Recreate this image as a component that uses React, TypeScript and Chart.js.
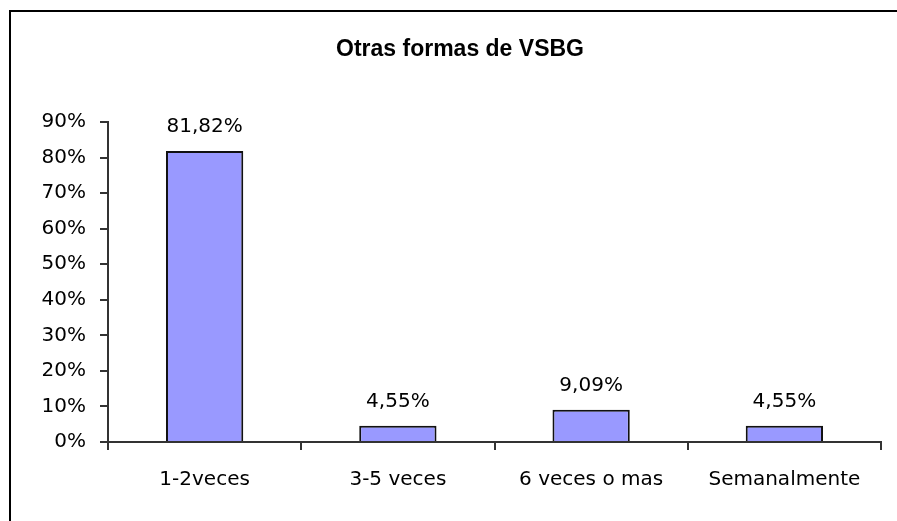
import React, { useEffect, useRef } from "react";
import { Chart, registerables } from "chart.js";

Chart.register(...registerables);

const categories = ["1-2veces", "3-5 veces", "6 veces o mas", "Semanalmente"];
const values = [81.82, 4.55, 9.09, 4.55];
const chartTitle = "Otras formas de VSBG";
const yMax = 90;
const yStep = 10;

const fmt = (v: number) => v.toFixed(2).replace(".", ",") + "%";

const framePlugin = {
  id: "frame",
  beforeDraw(chart: any) {
    const { ctx } = chart;
    ctx.save();
    ctx.fillStyle = "#ffffff";
    ctx.fillRect(0, 0, chart.width, chart.height);
    ctx.strokeStyle = "#000000";
    ctx.lineWidth = 2;
    ctx.beginPath();
    ctx.moveTo(10, chart.height);
    ctx.lineTo(10, 11);
    ctx.lineTo(chart.width, 11);
    ctx.stroke();
    ctx.restore();
  },
  afterDraw(chart: any) {
    const { ctx } = chart;
    ctx.save();
    ctx.font = "bold 23px 'Liberation Sans', Arial, sans-serif";
    ctx.fillStyle = "#000000";
    ctx.textAlign = "center";
    ctx.textBaseline = "middle";
    ctx.fillText(chartTitle, 460, 50);
    const meta = chart.getDatasetMeta(0);
    ctx.font = "20px 'DejaVu Sans', sans-serif";
    ctx.textBaseline = "alphabetic";
    meta.data.forEach((bar: any, i: number) => {
      ctx.fillText(fmt(values[i]), bar.x, bar.y - 19);
    });
    ctx.restore();
  },
};

export default function App() {
  const ref = useRef<HTMLCanvasElement>(null);
  useEffect(() => {
    document.body.style.margin = "0";
    const chart = new Chart(ref.current as HTMLCanvasElement, {
      type: "bar",
      data: {
        labels: categories,
        datasets: [
          {
            data: values,
            backgroundColor: "#9999FF",
            borderColor: "#111111",
            borderWidth: 2,
            barPercentage: 0.4,
            categoryPercentage: 1,
          },
        ],
      },
      options: {
        animation: false,
        responsive: false,
        maintainAspectRatio: false,
        layout: { padding: { top: 122, right: 16, left: 0, bottom: 0 } },
        plugins: {
          legend: { display: false },
          title: { display: false },
          tooltip: { enabled: false },
        },
        scales: {
          x: {
            afterFit(scale: any) {
              scale.height = 79;
            },
            grid: {
              display: true,
              drawOnChartArea: false,
              drawTicks: true,
              tickLength: 8,
              offset: true,
              color: "#333333",
              lineWidth: 2,
            },
            border: { color: "#333333", width: 2 },
            ticks: {
              color: "#000000",
              font: { family: "'DejaVu Sans', sans-serif", size: 20 },
              padding: 18,
              maxRotation: 0,
            },
          },
          y: {
            min: 0,
            max: yMax,
            afterFit(scale: any) {
              scale.width = 108;
            },
            grid: {
              display: true,
              drawOnChartArea: false,
              tickLength: 8,
              color: "#333333",
              lineWidth: 2,
            },
            border: { color: "#333333", width: 2 },
            ticks: {
              stepSize: yStep,
              color: "#000000",
              font: { family: "'DejaVu Sans', sans-serif", size: 20 },
              padding: 14,
              callback: (v: any) => v + "%",
            },
          },
        },
      },
      plugins: [framePlugin],
    });
    return () => chart.destroy();
  }, []);
  return (
    <div style={{ width: 897, height: 521 }}>
      <canvas ref={ref} width={897} height={521} style={{ display: "block" }} />
    </div>
  );
}
